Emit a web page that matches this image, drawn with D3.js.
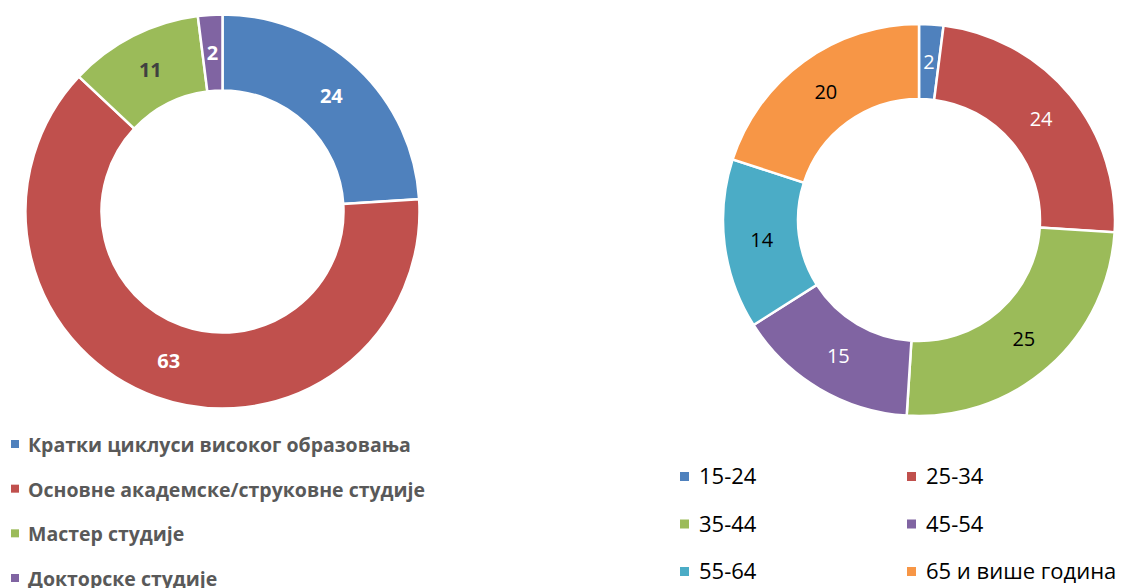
<!DOCTYPE html>
<html>
<head>
<meta charset="utf-8">
<script src="https://cdn.jsdelivr.net/npm/d3@7"></script>
<style>
  body { margin: 0; background: #fff; }
  svg { display: block; }
</style>
</head>
<body>
<div class="chart"></div>
<script>
// Two donuts: education level (left) and age groups (right)

var width = 1126, height = 588;

var eduLabels = ["Кратки циклуси високог образовања", "Основне академске/струковне студије", "Мастер студије", "Докторске студије"];
var eduValues = [24, 63, 11, 2];
var eduColors = ["#4F81BD", "#C0504D", "#9BBB59", "#8064A2"];
var eduText   = ["#fff", "#fff", "#404040", "#fff"];

var ageLabels = ["15-24", "25-34", "35-44", "45-54", "55-64", "65 и више година"];
var ageValues = [2, 24, 25, 15, 14, 20];
var ageColors = ["#4F81BD", "#C0504D", "#9BBB59", "#8064A2", "#4BACC6", "#F79646"];
var ageText   = ["#fff", "#fff", "#000", "#fff", "#000", "#000"];

var svg = d3.select(".chart").append("svg")
    .attr("width", width)
    .attr("height", height);

var pie = d3.pie().sort(null).value(function(d) { return d; });

function drawDonut(cx, cy, outer, inner, values, colors, textColors, bold) {
    var g = svg.append("g").attr("transform", "translate(" + cx + "," + cy + ")");
    var arc = d3.arc().innerRadius(inner).outerRadius(outer);
    var arcs = pie(values);

    g.selectAll(".slice")
        .data(arcs)
        .enter()
        .append("path")
        .attr("class", "slice")
        .attr("d", arc)
        .attr("fill", function(d, i) { return colors[i]; })
        .attr("stroke", "#fff")
        .attr("stroke-width", 2.5);

    g.selectAll(".lbl")
        .data(arcs)
        .enter()
        .append("text")
        .attr("class", "lbl")
        .attr("transform", function(d) { return "translate(" + arc.centroid(d) + ")"; })
        .attr("text-anchor", "middle")
        .attr("dy", "0.35em")
        .attr("font-family", "'Open Sans', sans-serif")
        .attr("font-size", 20)
        .attr("font-weight", bold ? "bold" : "normal")
        .attr("fill", function(d, i) { return textColors[i]; })
        .text(function(d) { return d.data; });
}

drawDonut(222.5, 211.5, 197, 121, eduValues, eduColors, eduText, true);
drawDonut(919, 220, 196, 121, ageValues, ageColors, ageText, false);

// left legend
var legL = svg.append("g");
var rowL = d3.scaleLinear().domain([0, 3]).range([452, 586]);
eduLabels.forEach(function(lab, i) {
    legL.append("rect")
        .attr("x", 11).attr("y", rowL(i) - 12)
        .attr("width", 8).attr("height", 8)
        .attr("fill", eduColors[i]);
    legL.append("text")
        .attr("x", 28).attr("y", rowL(i))
        .attr("font-family", "'Open Sans', sans-serif")
        .attr("font-size", 19.5)
        .attr("font-weight", "bold")
        .attr("fill", "#595959")
        .text(lab);
});

// right legend, two columns
var legR = svg.append("g");
var colX = [680, 907];
var rowR = d3.scaleLinear().domain([0, 2]).range([484, 579]);
ageLabels.forEach(function(lab, i) {
    var c = i % 2, r = Math.floor(i / 2);
    legR.append("rect")
        .attr("x", colX[c]).attr("y", rowR(r) - 12)
        .attr("width", 9).attr("height", 9)
        .attr("fill", ageColors[i]);
    legR.append("text")
        .attr("x", colX[c] + 19).attr("y", rowR(r))
        .attr("font-family", "'Open Sans', sans-serif")
        .attr("font-size", 22)
        .attr("fill", "#000")
        .text(lab);
});
</script>
</body>
</html>
